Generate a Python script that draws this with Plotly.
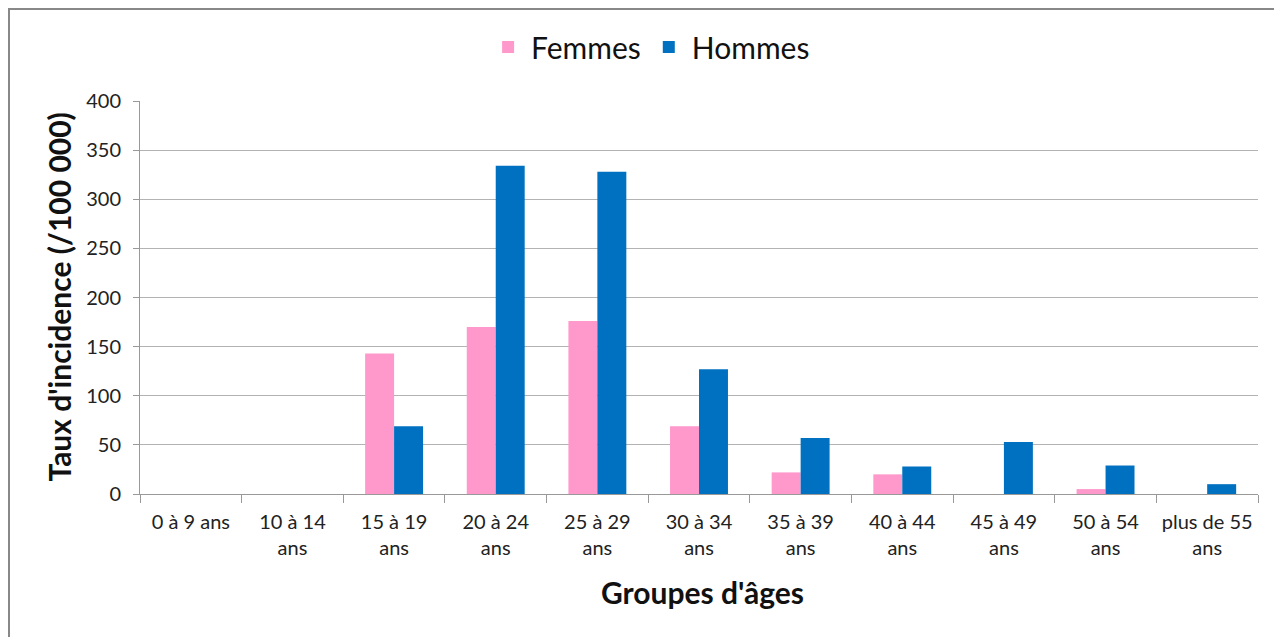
import plotly.graph_objects as go

categories = ["0 à 9 ans", "10 à 14<br>ans", "15 à 19<br>ans", "20 à 24<br>ans", "25 à 29<br>ans",
              "30 à 34<br>ans", "35 à 39<br>ans", "40 à 44<br>ans", "45 à 49<br>ans",
              "50 à 54<br>ans", "plus de 55<br>ans"]
femmes = [0, 0, 143, 170, 176, 69, 22, 20, 0, 5, 0]
hommes = [0, 0, 69, 334, 328, 127, 57, 28, 53, 29, 10]
y_ticks = [0, 50, 100, 150, 200, 250, 300, 350, 400]

FONT = "Lato, 'Open Sans', sans-serif"
W, H = 1274, 629

fig = go.Figure()
fig.add_trace(go.Bar(name="Femmes", x=categories, y=femmes, marker=dict(color="#FF99CC", line=dict(width=0))))
fig.add_trace(go.Bar(name="Hommes", x=categories, y=hommes, marker=dict(color="#0070C0", line=dict(width=0))))

fig.update_layout(
    width=W, height=H,
    margin=dict(l=132, r=24, t=93, b=143, autoexpand=False),
    paper_bgcolor="white", plot_bgcolor="white",
    barmode="group", bargap=0.43, bargroupgap=0,
    font=dict(family=FONT, color="#222222"),
    legend=dict(orientation="h", xref="container", yref="container",
                x=0.504, xanchor="center", y=1 - 39 / H, yanchor="middle",
                bgcolor="rgba(0,0,0,0)",
                font=dict(size=30, color="#111111"), itemwidth=36, traceorder="normal"),
    showlegend=True,
)
fig.update_xaxes(
    type="category", showline=True, linecolor="#999999", linewidth=1,
    ticks="outside", tickson="boundaries", ticklen=8, tickcolor="#999999",
    tickfont=dict(size=20, color="#222222"), tickangle=0, automargin=False,
    ticklabelstandoff=10,
)
fig.update_yaxes(
    range=[0, 400], tickvals=y_ticks, showline=True, linecolor="#999999", linewidth=1,
    ticks="outside", ticklen=6, tickcolor="#999999",
    showgrid=True, gridcolor="#b3b3b3", gridwidth=1,
    tickfont=dict(size=20, color="#222222"), automargin=False,
    zeroline=False, ticklabelstandoff=8,
)
fig.add_annotation(text="<b>Groupes d'âges</b>", xref="paper", yref="paper",
                   x=0.503, y=-0.249, showarrow=False, xanchor="center", yanchor="middle",
                   font=dict(size=30, color="#111111", family=FONT))
fig.add_annotation(text="<b>Taux d'incidence (/100 000)</b>", xref="paper", yref="paper",
                   x=-0.0733, y=0.5, showarrow=False, xanchor="center", yanchor="middle",
                   textangle=-90, font=dict(size=30, color="#111111", family=FONT))
# outer chart border (top and left visible in the reference)
fig.add_shape(type="rect", xref="paper", yref="paper",
              x0=-(132 - 1) / 1118, x1=1.3, y0=-0.6, y1=1 + (93 - 1) / 393,
              line=dict(color="#888888", width=2), fillcolor="rgba(0,0,0,0)", layer="below")

fig.write_html("out.html")
